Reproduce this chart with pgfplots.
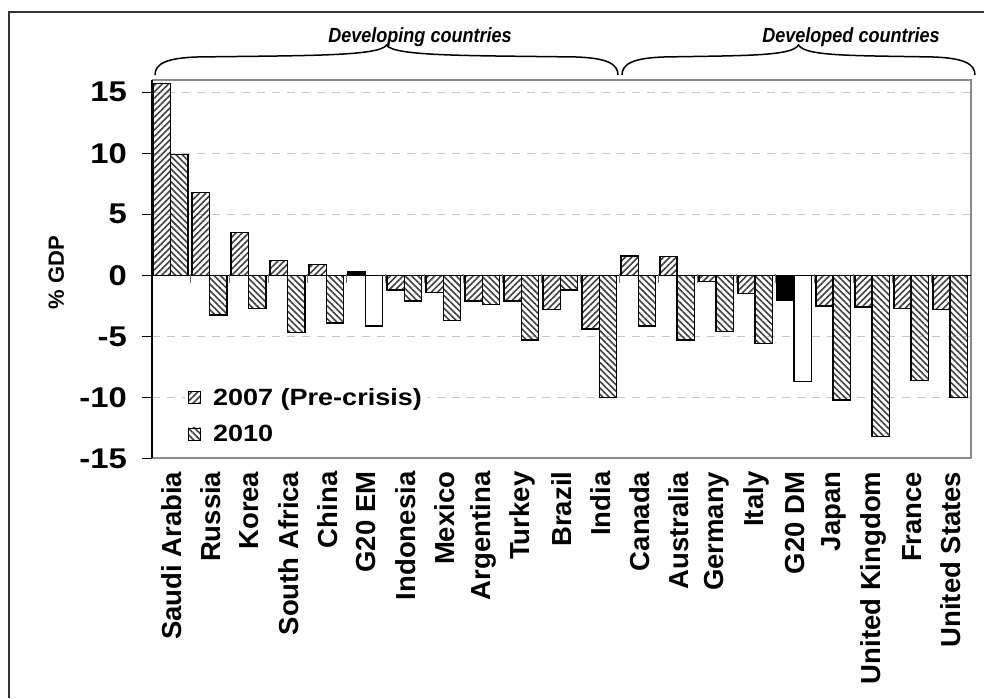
\documentclass[border=0pt]{standalone}
\usepackage{pgfplots}
\pgfplotsset{compat=1.18}
\usepackage{fontspec}
\setmainfont{Liberation Sans}[FakeStretch=1.15]
\newfontfamily\rotfont{Liberation Sans}
\newfontfamily\narrowfont{Liberation Sans}[FakeStretch=0.88]
\usetikzlibrary{patterns.meta}

% fills
\pgfplotsset{
  hatchA/.style={draw=black, line width=1.5pt,
    pattern={Lines[angle=45,distance=4.5pt,line width=1.6pt]}, pattern color=black!75},
  hatchB/.style={draw=black, line width=1.5pt,
    pattern={Lines[angle=-45,distance=4.5pt,line width=1.6pt]}, pattern color=black!75},
}

\begin{document}
\begin{tikzpicture}[x=1pt,y=1pt]
\useasboundingbox (-152,-239.5) rectangle (832,458.5);
\begin{axis}[
  at={(0,0)}, anchor=south west, scale only axis,
  width=818.5pt, height=378.5pt,
  xmin=-0.5, xmax=20.5, ymin=-15, ymax=16,
  ybar, bar width=17.3pt,
  clip=false,
  axis line style={draw=none},
  xtick={0,...,20},
  xticklabels={Saudi Arabia,Russia,Korea,South Africa,China,G20 EM,Indonesia,Mexico,Argentina,Turkey,Brazil,India,Canada,Australia,Germany,Italy,G20 DM,Japan,United Kingdom,France,United States},
  xtick style={draw=none},
  xticklabel style={font=\rotfont\bfseries\fontsize{27.5}{28}\selectfont,
    inner sep=0pt, yshift=-3pt, rotate=90, anchor=east},
  ytick={-15,-10,...,15},
  yticklabels={-15,-10,-5,0,5,10,15},
  ytick pos=left, tick align=outside,
  major tick length=10pt,
  ytick style={black, line width=0.8pt},
  yticklabel style={font=\bfseries\fontsize{28.5}{29}\selectfont, inner sep=0pt, xshift=-15pt},
  /pgf/number format/assume math mode=true,
  ymajorgrids,
  grid style={dash pattern=on 8pt off 7pt, line width=1.2pt, color=black!22},
  ylabel={\% GDP},
  ylabel style={font=\rotfont\bfseries\fontsize{22}{22}\selectfont,
    at={(axis description cs:-0.117,0.491)}, anchor=center},
  legend style={at={(0.04,0.196)}, anchor=north west, draw=none, fill=white,
    font=\bfseries\fontsize{23.5}{23.5}\selectfont, row sep=14pt,
    inner xsep=3pt, inner ysep=2pt, cells={anchor=west}},
  legend image code/.code={\draw[#1, line width=0.8pt] (0pt,-6pt) rectangle (12pt,6pt);
    \path (22pt,0pt);},
]
\addplot[hatchA, bar shift=-9.6pt] coordinates {
  (0,15.7) (1,6.8) (2,3.5) (3,1.2) (4,0.9) (6,-1.2) (7,-1.4) (8,-2.1) (9,-2.1) (10,-2.8)
  (11,-4.4) (12,1.6) (13,1.55) (14,-0.5) (15,-1.5) (17,-2.5) (18,-2.6) (19,-2.7) (20,-2.8)};
\addlegendentry{2007 (Pre-crisis)}
\addplot[hatchB, bar shift=7.7pt] coordinates {
  (0,9.9) (1,-3.25) (2,-2.7) (3,-4.7) (4,-3.9) (6,-2.1) (7,-3.7) (8,-2.4) (9,-5.3) (10,-1.2)
  (11,-10.0) (12,-4.15) (13,-5.3) (14,-4.6) (15,-5.6) (17,-10.2) (18,-13.2) (19,-8.6) (20,-10.0)};
\addlegendentry{2010}
% G20 aggregates
\addplot[forget plot, draw=black, line width=1.5pt, fill=black, bar shift=-9.6pt]
  coordinates {(5,0.3) (16,-2.0)};
\addplot[forget plot, draw=black, line width=1.5pt, fill=white, bar shift=7.7pt]
  coordinates {(5,-4.15) (16,-8.7)};
\end{axis}
% plot frame, zero line, category separators
\draw[black!45, line width=2pt] (0,0) -- (818.5,0) -- (818.5,378.5) -- (0,378.5);
\draw[black, line width=1.5pt] (0,0) -- (0,378.5);
\draw[black, line width=1.5pt] (0,183.15) -- (818.5,183.15);
\foreach \j in {1,...,20} \draw[black!55, line width=1pt] (38.976*\j,184) -- ++(0,-9);
% braces
\draw[black, line width=1.5pt]
  (3,383.5) .. controls (3,395) and (15,400.5) .. (45,401.5)
  .. controls (150,403) and (228,402) .. (234.5,413.5)
  .. controls (241,402) and (319,403) .. (424,401.5)
  .. controls (454,400.5) and (466,395) .. (466,383.5);
\draw[black, line width=1.5pt]
  (470,383.5) .. controls (470,395) and (482,400.5) .. (512,401.5)
  .. controls (590,403) and (640,402) .. (646.5,413.5)
  .. controls (653,402) and (703,403) .. (781,401.5)
  .. controls (811,400.5) and (823,395) .. (823,383.5);
\node[font=\narrowfont\bfseries\itshape\fontsize{20.5}{20.5}\selectfont] at (268,421.5) {Developing countries};
\node[font=\narrowfont\bfseries\itshape\fontsize{20.5}{20.5}\selectfont] at (699,421.5) {Developed countries};
% outer frame
\draw[black!80, line width=1.7pt] (-142.7,-239.5) -- (-142.7,446.8) -- (832,446.8);
\end{tikzpicture}
\end{document}
